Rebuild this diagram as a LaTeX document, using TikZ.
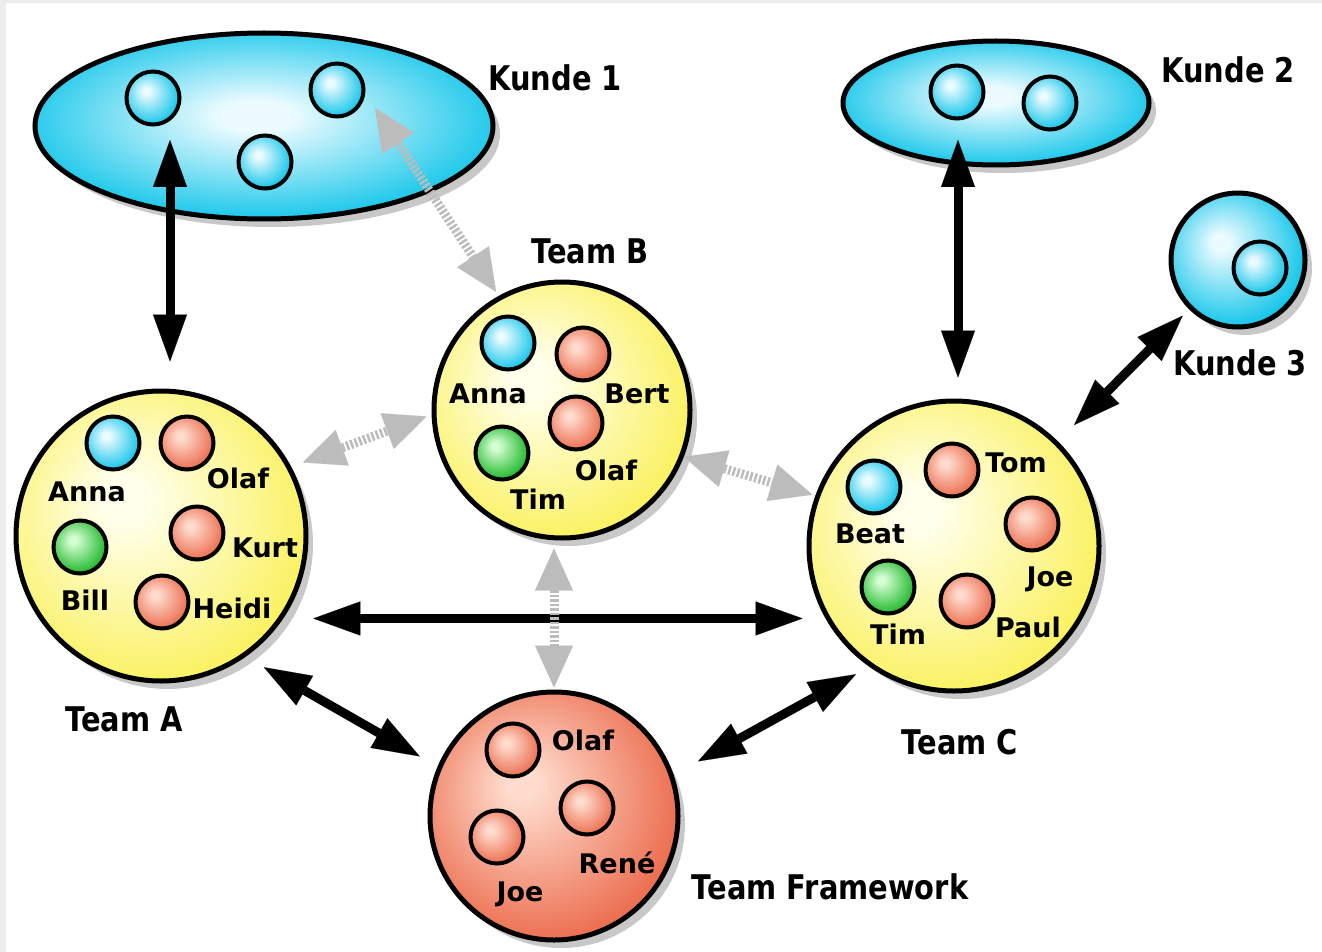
\documentclass[tikz,border=0pt]{standalone}
\usepackage{fontspec}
\setmainfont{DejaVu Sans}
\newfontfamily\lblfont{DejaVu Sans}[FakeStretch=0.85]
\usetikzlibrary{shapes.geometric,arrows.meta,shadows,calc}
\definecolor{bgray}{RGB}{236,236,236}
\definecolor{shgray}{RGB}{200,200,200}
\definecolor{arrgray}{RGB}{188,188,188}
\definecolor{bL}{RGB}{235,251,255}
\definecolor{bE}{RGB}{22,198,234}
\definecolor{yL}{RGB}{255,255,235}
\definecolor{yE}{RGB}{250,240,85}
\definecolor{rL}{RGB}{255,220,206}
\definecolor{rE}{RGB}{236,112,82}
\definecolor{gL}{RGB}{215,255,212}
\definecolor{gE}{RGB}{32,184,44}
\pgfdeclareradialshading{ballblue}{\pgfpoint{-7bp}{7bp}}{color(0bp)=(bL); color(3bp)=(bL); color(28bp)=(bE); color(50bp)=(bE)}
\pgfdeclareradialshading{ballyellow}{\pgfpoint{-7bp}{7bp}}{color(0bp)=(yL); color(4bp)=(yL); color(31bp)=(yE); color(50bp)=(yE)}
\pgfdeclareradialshading{ballred}{\pgfpoint{-7bp}{7bp}}{color(0bp)=(rL); color(3bp)=(rL); color(28bp)=(rE); color(50bp)=(rE)}
\pgfdeclareradialshading{ballgreen}{\pgfpoint{-7bp}{7bp}}{color(0bp)=(gL); color(3bp)=(gL); color(28bp)=(gE); color(50bp)=(gE)}
\pgfdeclareradialshading{ovalblue}{\pgfpoint{-1bp}{3bp}}{color(0bp)=(bL); color(4bp)=(bL); color(27bp)=(bE); color(50bp)=(bE)}
\begin{document}
\begin{tikzpicture}[x=1pt,y=-1pt,
  big/.style={draw=black, line width=5pt, inner sep=0pt, shade,
    drop shadow={shadow xshift=7pt, shadow yshift=-8pt, fill=shgray, opacity=1}},
  ball/.style={circle, draw=black, line width=4pt, minimum size=53pt, inner sep=0pt, shade},
  bb/.style={ball, shading=ballblue},
  rb/.style={ball, shading=ballred},
  gb/.style={ball, shading=ballgreen},
  nm/.style={font=\bfseries\fontsize{27}{27}\selectfont, inner sep=0pt, text height=20pt, text depth=0pt},
  lbl/.style={font=\lblfont\bfseries\fontsize{34}{34}\selectfont, inner sep=0pt, text height=25pt, text depth=0pt},
  blk/.style={draw=black, line width=9pt,
    arrows={Triangle[length=47pt,width=34pt,line width=0.1pt]-Triangle[length=47pt,width=34pt,line width=0.1pt]}},
  gry/.style={draw=arrgray, line width=9pt, dash pattern=on 2.5pt off 2pt,
    arrows={Triangle[length=42pt,width=38pt,line width=0.1pt]-Triangle[length=42pt,width=38pt,line width=0.1pt]}}
]
\useasboundingbox (0,0) rectangle (1322,952);
\fill[bgray] (0,0) rectangle (1322,952);
\fill[white] (6,3) rectangle (1322,952);

% big shapes
\node[big, ellipse, shading=ovalblue, minimum width=458pt, minimum height=186pt] (kunde1) at (264,126) {};
\node[big, ellipse, shading=ovalblue, minimum width=306pt, minimum height=124pt] (kunde2) at (996,103) {};
\node[big, circle, shading=ballblue, minimum size=134pt] (kunde3) at (1238,260) {};
\node[big, circle, shading=ballyellow, minimum size=290pt] (teamA) at (161,536) {};
\node[big, circle, shading=ballyellow, minimum size=256pt] (teamB) at (562,410) {};
\node[big, circle, shading=ballyellow, minimum size=290pt] (teamC) at (954,546) {};
\node[big, circle, shading=ballred, minimum size=248pt] (framework) at (554,816) {};

% members
\node[bb] (k1a1) at (153,98) {};
\node[bb] (k1a2) at (337,90) {};
\node[bb] (k1a3) at (265,162) {};
\node[bb] (k2a1) at (957,92) {};
\node[bb] (k2a2) at (1050,103) {};
\node[bb] (k3a1) at (1260,268) {};

\node[bb] (aAnna) at (113,443) {};
\node[rb] (aOlaf) at (187,443) {};
\node[rb] (aKurt) at (197,533) {};
\node[gb] (aBill) at (80,547) {};
\node[rb] (aHeidi) at (162,602) {};

\node[bb] (bAnna) at (508,343) {};
\node[rb] (bBert) at (583,354) {};
\node[rb] (bOlaf) at (576,423) {};
\node[gb] (bTim) at (502,453) {};

\node[bb] (cBeat) at (874,487) {};
\node[rb] (cTom) at (952,470) {};
\node[rb] (cJoe) at (1032,524) {};
\node[gb] (cTim) at (888,587) {};
\node[rb] (cPaul) at (967,601) {};

\node[rb] (fOlaf) at (513,750) {};
\node[rb] (fRene) at (587,808) {};
\node[rb] (fJoe) at (497,837) {};

% names
\node[nm] (tAnnaA) at (87,491) {Anna};
\node[nm] (tOlafA) at (238,478) {Olaf};
\node[nm] (tKurtA) at (265,547) {Kurt};
\node[nm] (tBillA) at (85,600) {Bill};
\node[nm] (tHeidiA) at (232,608) {Heidi};

\node[nm] (tAnnaB) at (488,393) {Anna};
\node[nm] (tBertB) at (637,393) {Bert};
\node[nm] (tOlafB) at (606,470) {Olaf};
\node[nm] (tTimB) at (538,499) {Tim};

\node[nm] (tTomC) at (1016,462) {Tom};
\node[nm] (tBeatC) at (870,533) {Beat};
\node[nm] (tJoeC) at (1050,576) {Joe};
\node[nm] (tTimC) at (898,634) {Tim};
\node[nm] (tPaulC) at (1028,627) {Paul};

\node[nm] (tOlafF) at (583,740) {Olaf};
\node[nm] (tReneF) at (617,863) {René};
\node[nm] (tJoeF) at (520,891) {Joe};

% labels
\node[lbl] (lK1) at (555,78) {Kunde 1};
\node[lbl] (lK2) at (1228,70) {Kunde 2};
\node[lbl] (lK3) at (1240,363) {Kunde 3};
\node[lbl] (lB) at (590,251) {Team B};
\node[lbl] (lA) at (124,719) {Team A};
\node[lbl] (lC) at (960,742) {Team C};
\node[lbl] (lF) at (830,887) {Team Framework};

% connector ends inside the customer ovals
\coordinate (k1x) at ($(kunde1.center)+(-94,14)$);
\coordinate (k2x) at ($(kunde2.center)+(-38,37)$);
\coordinate (k1y) at ($(kunde1.center)+(111,-18)$);

% black connectors
\draw[blk, shorten >=27pt] (k1x) -- (k1x |- teamA.north);
\draw[blk, shorten >=21pt] (k2x) -- (k2x |- teamC.north);
\draw[blk, shorten <=9pt, shorten >=23pt] (kunde3) -- (teamC);
\draw[blk, shorten <=30pt, shorten >=4pt] (teamA.-34) -- (teamA.-34 -| teamC.west);
\draw[blk, shorten <=21pt, shorten >=20.5pt] (teamA.-55.8) -- (framework.157.2);
\draw[blk, shorten <=15.4pt, shorten >=27.9pt] (teamC.-125.6) -- (framework.19.7);

% gray connectors
\draw[gry, shorten >=4.8pt] (k1y) -- (teamB.119.7);
\draw[gry, shorten <=12.4pt, shorten >=5.4pt] (teamA.28.4) -- (teamB.182.3);
\draw[gry, shorten >=3.2pt] (teamB.-21) -- (teamC.160.9);
\draw[gry, shorten <=8pt, shorten >=2pt] (framework.north |- teamB.south) -- (framework.north);
\end{tikzpicture}
\end{document}
